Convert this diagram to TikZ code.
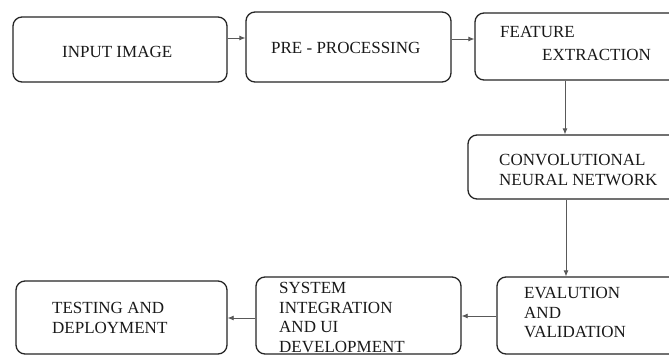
\documentclass[tikz,border=0pt]{standalone}
\usepackage{fontspec}
\setmainfont{Liberation Serif}
\usetikzlibrary{arrows.meta}
\begin{document}
\begin{tikzpicture}[x=1pt,y=-1pt,
  box/.style={draw=black!85, line width=1.3pt, rounded corners=9pt, inner sep=0pt},
  lbl/.style={anchor=north west, inner sep=0pt, align=left, text=black!90,
    font=\fontsize{17}{19.5}\selectfont},
  arr/.style={draw=black!65, line width=0.8pt, -{Latex[length=6pt,width=5pt]}}]
\useasboundingbox (0,0) rectangle (669,356);
\clip (0,0) rectangle (669,356);
\fill[white] (0,0) rectangle (669,356);
% boxes
\node[box, minimum width=214pt, minimum height=65pt] (b1) at (120,49.5) {};
\node[box, minimum width=205pt, minimum height=70pt] (b2) at (348.5,47) {};
\node[box, minimum width=215pt, minimum height=67pt] (b3) at (582.5,46.5) {};
\node[box, minimum width=222pt, minimum height=64pt] (cnn) at (579,167) {};
\node[box, minimum width=193pt, minimum height=77pt] (ev) at (593.5,315.5) {};
\node[box, minimum width=205pt, minimum height=77pt] (sys) at (358.5,315.5) {};
\node[box, minimum width=211pt, minimum height=73pt] (test) at (121.5,317.5) {};
% labels
\node[lbl] (t1) at (62,45.7) {INPUT IMAGE};
\node[lbl] (t2) at (271,41.7) {PRE - PROCESSING};
\node[lbl] (t3a) at (500,25.7) {FEATURE};
\node[lbl] (t3b) at (542,48.7) {EXTRACTION};
\node[lbl] (t4) at (499,154.2) {CONVOLUTIONAL\\NEURAL NETWORK};
\node[lbl] (t5) at (524,287.2) {EVALUTION\\AND\\VALIDATION};
\node[lbl] (t6) at (279,282.5) {SYSTEM\\INTEGRATION\\AND UI\\DEVELOPMENT};
\node[lbl] (t7) at (52,302.2) {TESTING AND\\DEPLOYMENT};
% connectors
\draw[arr] (b1.east |- 0,38) -- (b2.west |- 0,38);
\draw[arr] (b2.east |- 0,39) -- (b3.west |- 0,39);
\draw[arr] (b3.south -| 565,0) -- (cnn.north -| 565,0);
\draw[arr] (cnn.south -| 566,0) -- (ev.north -| 566,0);
\draw[arr] (ev.west |- 0,316) -- (sys.east |- 0,316);
\draw[arr] (sys.west |- 0,318) -- (test.east |- 0,318);
\end{tikzpicture}
\end{document}
